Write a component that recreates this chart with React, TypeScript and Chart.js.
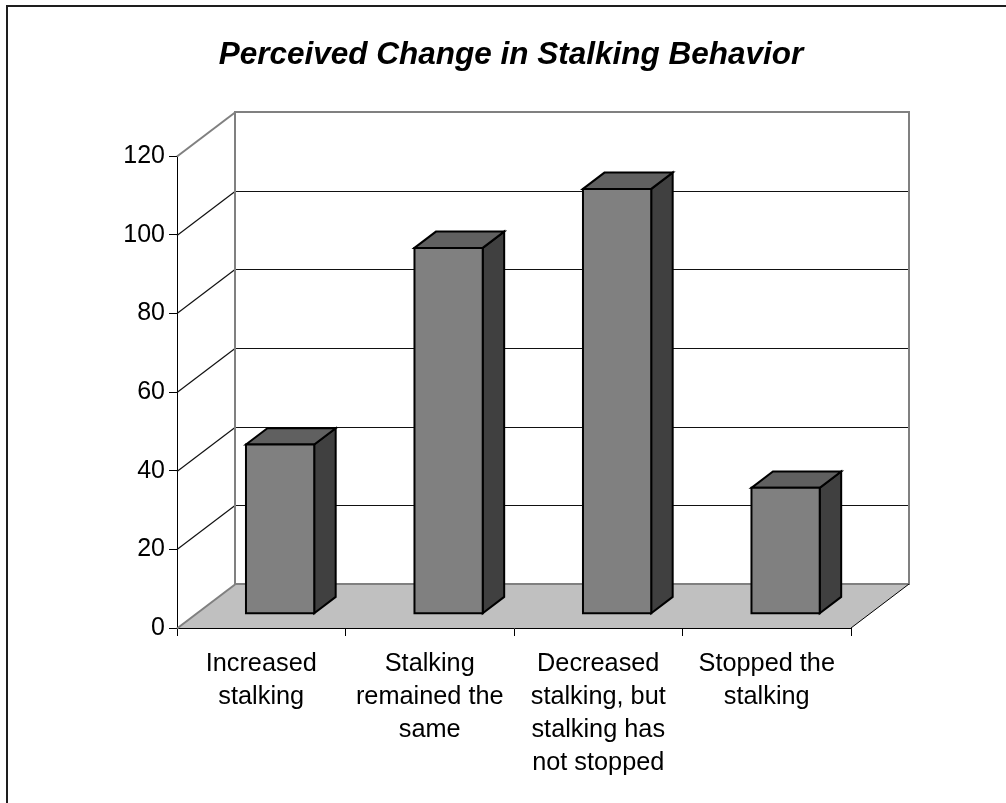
import React, { useEffect, useRef } from "react";
import { Chart, registerables } from "chart.js";

Chart.register(...registerables);

const chartTitle = "Perceived Change in Stalking Behavior";
const categories: string[][] = [
  ["Increased", "stalking"],
  ["Stalking", "remained the", "same"],
  ["Decreased", "stalking, but", "stalking has", "not stopped"],
  ["Stopped the", "stalking"],
];
const values: number[] = [43, 93, 108, 32];
const yMin = 0;
const yMax = 120;
const yStep = 20;

// styling constants for the oblique 3D look
const DX = 58;
const DY = 44;
const BAR_Z0 = 0.325;
const BAR_Z1 = 0.695;
const FONT = "'Liberation Sans', Arial, sans-serif";

const threeDPlugin = {
  id: "threeD",
  beforeDraw(chart: any) {
    const { ctx, width, height } = chart;
    ctx.save();
    ctx.fillStyle = "#ffffff";
    ctx.fillRect(0, 0, width, height);
    ctx.fillStyle = "#1e1e1e";
    ctx.fillRect(6, 5, 2, height);
    ctx.fillRect(6, 5, width, 2);
    ctx.restore();
  },
  beforeDatasetsDraw(chart: any) {
    const { ctx, chartArea, scales } = chart;
    const { left, right } = chartArea;
    const ys = scales.y;
    const y0 = ys.getPixelForValue(yMin);
    const yT = ys.getPixelForValue(yMax);
    ctx.save();
    // back wall
    ctx.fillStyle = "#ffffff";
    ctx.fillRect(left + DX, yT - DY, right - left, y0 - yT);
    // floor
    ctx.beginPath();
    ctx.moveTo(left, y0);
    ctx.lineTo(right, y0);
    ctx.lineTo(right + DX, y0 - DY);
    ctx.lineTo(left + DX, y0 - DY);
    ctx.closePath();
    ctx.fillStyle = "#c0c0c0";
    ctx.fill();
    // gridlines
    const ticks = ys.ticks.map((t: any) => t.value);
    ticks.forEach((v: number) => {
      const py = Math.round(ys.getPixelForValue(v)) + 0.5;
      const edge = v === yMin || v === yMax;
      ctx.lineWidth = edge ? 2 : 1.2;
      ctx.strokeStyle = edge ? "#808080" : "#111111";
      ctx.beginPath();
      ctx.moveTo(left, py);
      ctx.lineTo(left + DX, py - DY);
      ctx.stroke();
      if (!edge) {
        ctx.beginPath();
        ctx.moveTo(left + DX, py - DY);
        ctx.lineTo(right + DX, py - DY);
        ctx.stroke();
      }
    });
    // wall border
    ctx.strokeStyle = "#808080";
    ctx.lineWidth = 2;
    ctx.strokeRect(left + DX, yT - DY, right - left, y0 - yT);
    // floor right edge
    ctx.strokeStyle = "#000000";
    ctx.lineWidth = 1;
    ctx.beginPath();
    ctx.moveTo(right, y0);
    ctx.lineTo(right + DX, y0 - DY);
    ctx.stroke();
    ctx.restore();
  },
  beforeDatasetDraw(chart: any, args: any) {
    const { ctx } = chart;
    const meta = args.meta;
    ctx.save();
    ctx.lineWidth = 2;
    ctx.strokeStyle = "#000000";
    ctx.lineJoin = "miter";
    const fx = BAR_Z0 * DX, fy = BAR_Z0 * DY;
    const bx = BAR_Z1 * DX, by = BAR_Z1 * DY;
    meta.data.forEach((el: any) => {
      const p = el.getProps(["x", "y", "base", "width"], true);
      const xl = p.x - p.width / 2;
      const xr = p.x + p.width / 2;
      const yt = p.y;
      const yb = p.base;
      // side face
      ctx.beginPath();
      ctx.moveTo(xr + fx, yt - fy);
      ctx.lineTo(xr + bx, yt - by);
      ctx.lineTo(xr + bx, yb - by);
      ctx.lineTo(xr + fx, yb - fy);
      ctx.closePath();
      ctx.fillStyle = "#404040";
      ctx.fill();
      ctx.stroke();
      // top face
      ctx.beginPath();
      ctx.moveTo(xl + fx, yt - fy);
      ctx.lineTo(xl + bx, yt - by);
      ctx.lineTo(xr + bx, yt - by);
      ctx.lineTo(xr + fx, yt - fy);
      ctx.closePath();
      ctx.fillStyle = "#606060";
      ctx.fill();
      ctx.stroke();
      // front face
      ctx.beginPath();
      ctx.rect(xl + fx, yt - fy, xr - xl, yb - yt);
      ctx.fillStyle = "#808080";
      ctx.fill();
      ctx.stroke();
    });
    ctx.restore();
    return false;
  },
  afterDraw(chart: any) {
    const { ctx } = chart;
    ctx.save();
    ctx.fillStyle = "#000000";
    ctx.font = `italic bold 31.5px ${FONT}`;
    ctx.textAlign = "center";
    ctx.textBaseline = "alphabetic";
    ctx.fillText(chartTitle, 511, 64);
    ctx.restore();
  },
};

export default function App() {
  const ref = useRef<HTMLCanvasElement | null>(null);
  useEffect(() => {
    if (!ref.current) return;
    const chart = new Chart(ref.current, {
      type: "bar",
      data: {
        labels: categories,
        datasets: [
          {
            data: values,
            backgroundColor: "#808080",
            borderWidth: 0,
            barPercentage: 0.405,
            categoryPercentage: 1.0,
          },
        ],
      },
      options: {
        responsive: false,
        animation: false,
        events: [],
        layout: { padding: { left: 0, right: 155, top: 156, bottom: 25 } },
        plugins: {
          legend: { display: false },
          title: { display: false },
          tooltip: { enabled: false },
        },
        scales: {
          x: {
            type: "category",
            offset: true,
            z: 1,
            afterFit: (s: any) => {
              s.height = 150;
            },
            grid: {
              offset: true,
              drawOnChartArea: false,
              drawTicks: true,
              tickLength: 8,
              color: "#000000",
            },
            border: { display: true, color: "#000000", width: 1 },
            ticks: {
              autoSkip: false,
              maxRotation: 0,
              minRotation: 0,
              padding: 11,
              color: "#000000",
              font: { family: FONT, size: 25.3, lineHeight: 1.31 },
            },
          },
          y: {
            type: "linear",
            min: yMin,
            max: yMax,
            z: 1,
            afterFit: (s: any) => {
              s.width = 177;
            },
            grid: {
              drawOnChartArea: false,
              drawTicks: true,
              tickLength: 8,
              color: "#000000",
            },
            border: { display: true, color: "#000000", width: 1 },
            ticks: {
              stepSize: yStep,
              padding: 4,
              color: "#000000",
              font: { family: FONT, size: 25 },
            },
          },
        },
      },
      plugins: [threeDPlugin],
    });
    return () => chart.destroy();
  }, []);
  return (
    <div style={{ position: "absolute", left: 0, top: 0, width: 1006, height: 803 }}>
      <canvas ref={ref} width={1006} height={803} style={{ width: 1006, height: 803, display: "block" }} />
    </div>
  );
}
